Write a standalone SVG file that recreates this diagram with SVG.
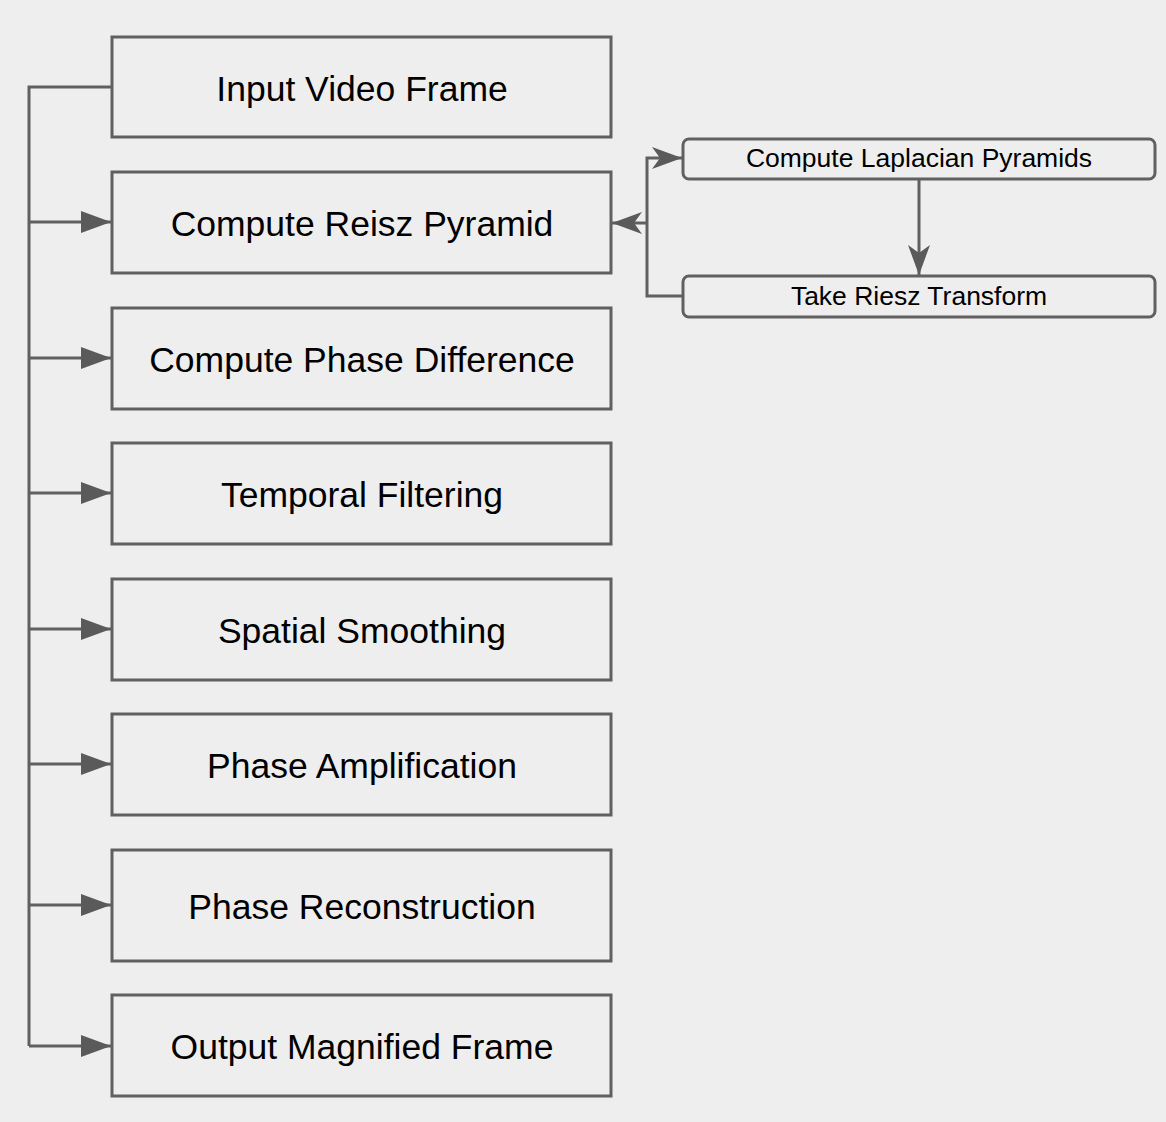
<svg xmlns="http://www.w3.org/2000/svg" width="1166" height="1122" viewBox="0 0 1166 1122">
<style>
.box{fill:#eeeeee;stroke:#606060;stroke-width:3}
.sbox{fill:#eeeeee;stroke:#606060;stroke-width:3}
.t{font-family:"Liberation Sans",Arial,sans-serif;font-size:35.5px;fill:#000;text-anchor:middle}
.s{font-family:"Liberation Sans",Arial,sans-serif;font-size:26.5px;fill:#000;text-anchor:middle}
.c{fill:none;stroke:#606060;stroke-width:3}
</style>
<defs>
<marker id="fa" markerUnits="userSpaceOnUse" markerWidth="34" markerHeight="26" refX="32" refY="13" orient="auto">
<path d="M2,2 L32,13 L2,24 Z" fill="#5a5a5a"/>
</marker>
<marker id="oa" markerUnits="userSpaceOnUse" markerWidth="36" markerHeight="28" refX="33" refY="14" orient="auto">
<path d="M3,3 L33,14 L3,25 L11,14 Z" fill="#5a5a5a"/>
</marker>
</defs>
<rect width="1166" height="1122" fill="#eeeeee"/>
<g id="connectors">
<path class="c" d="M112,87 H29 V1046"/>
<path class="c" d="M29,222 H111" marker-end="url(#fa)"/>
<path class="c" d="M29,358 H111" marker-end="url(#fa)"/>
<path class="c" d="M29,493 H111" marker-end="url(#fa)"/>
<path class="c" d="M29,629 H111" marker-end="url(#fa)"/>
<path class="c" d="M29,764 H111" marker-end="url(#fa)"/>
<path class="c" d="M29,905 H111" marker-end="url(#fa)"/>
<path class="c" d="M29,1046 H111" marker-end="url(#fa)"/>
<path class="c" d="M919,179 V275" marker-end="url(#oa)"/>
<path class="c" d="M683,296 H647 V158 H682" marker-end="url(#oa)"/>
<path class="c" d="M647,223 H612" marker-end="url(#oa)"/>
</g>
<g id="n1"><rect class="box" x="112" y="37" width="499" height="100"/><text class="t" x="362" y="101">Input Video Frame</text></g>
<g id="n2"><rect class="box" x="112" y="172" width="499" height="101"/><text class="t" x="362" y="236">Compute Reisz Pyramid</text></g>
<g id="n3"><rect class="box" x="112" y="308" width="499" height="101"/><text class="t" x="362" y="372">Compute Phase Difference</text></g>
<g id="n4"><rect class="box" x="112" y="443" width="499" height="101"/><text class="t" x="362" y="507">Temporal Filtering</text></g>
<g id="n5"><rect class="box" x="112" y="579" width="499" height="101"/><text class="t" x="362" y="643">Spatial Smoothing</text></g>
<g id="n6"><rect class="box" x="112" y="714" width="499" height="101"/><text class="t" x="362" y="778">Phase Amplification</text></g>
<g id="n7"><rect class="box" x="112" y="850" width="499" height="111"/><text class="t" x="362" y="919">Phase Reconstruction</text></g>
<g id="n8"><rect class="box" x="112" y="995" width="499" height="101"/><text class="t" x="362" y="1059">Output Magnified Frame</text></g>
<g id="n9"><rect class="sbox" x="683" y="139" width="472" height="40" rx="6"/><text class="s" x="919" y="167">Compute Laplacian Pyramids</text></g>
<g id="n10"><rect class="sbox" x="683" y="276" width="472" height="41" rx="6"/><text class="s" x="919" y="305">Take Riesz Transform</text></g>
</svg>
